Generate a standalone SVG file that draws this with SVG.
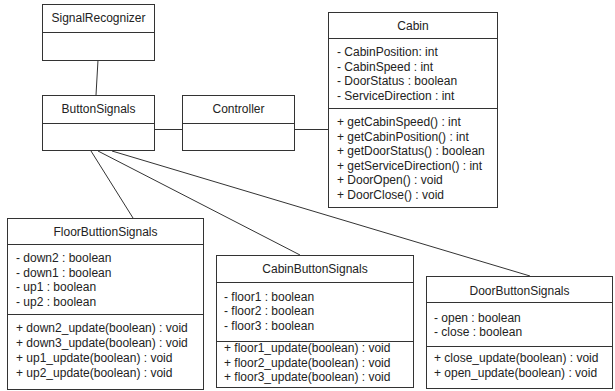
<svg xmlns="http://www.w3.org/2000/svg" width="615" height="391" viewBox="0 0 615 391">
<style>
.box{fill:#fff;stroke:#333;stroke-width:1}
.div{stroke:#333;stroke-width:1}
.conn{stroke:#333;stroke-width:1;fill:none}
text{font-family:"Liberation Sans",Arial,sans-serif;font-size:12px;fill:#222}
.t{text-anchor:middle}
</style>
<rect width="615" height="391" fill="#fff"/>
<g id="connectors">
<line class="conn" x1="98" y1="60" x2="96" y2="95"/>
<line class="conn" x1="154" y1="129.5" x2="182" y2="129.5"/>
<line class="conn" x1="294" y1="129.5" x2="328" y2="129.5"/>
<line class="conn" x1="91" y1="151" x2="133" y2="218"/>
<line class="conn" x1="98" y1="151" x2="300" y2="255"/>
<line class="conn" x1="112" y1="151" x2="530" y2="276"/>
</g>
<g id="SignalRecognizer">
<rect class="box" x="42.5" y="4.5" width="112" height="56"/>
<line class="div" x1="42.5" y1="32.5" x2="154.5" y2="32.5"/>
<text class="t" x="98.5" y="22">SignalRecognizer</text>
</g>
<g id="ButtonSignals">
<rect class="box" x="42.5" y="95.5" width="112" height="55"/>
<line class="div" x1="42.5" y1="123.5" x2="154.5" y2="123.5"/>
<text class="t" x="98.5" y="113">ButtonSignals</text>
</g>
<g id="Controller">
<rect class="box" x="182.5" y="95.5" width="112" height="55"/>
<line class="div" x1="182.5" y1="123.5" x2="294.5" y2="123.5"/>
<text class="t" x="238.5" y="113">Controller</text>
</g>
<g id="Cabin">
<rect class="box" x="328.5" y="12.5" width="169" height="195"/>
<line class="div" x1="328.5" y1="38.5" x2="497.5" y2="38.5"/>
<line class="div" x1="328.5" y1="108.5" x2="497.5" y2="108.5"/>
<text class="t" x="413" y="29.5">Cabin</text>
<text x="337" y="56">- CabinPosition: int</text>
<text x="337" y="70.5">- CabinSpeed : int</text>
<text x="337" y="85">- DoorStatus : boolean</text>
<text x="337" y="99.5">- ServiceDirection : int</text>
<text x="337" y="126">+ getCabinSpeed() : int</text>
<text x="337" y="140.6">+ getCabinPosition() : int</text>
<text x="337" y="155.2">+ getDoorStatus() : boolean</text>
<text x="337" y="169.8">+ getServiceDirection() : int</text>
<text x="337" y="184.4">+ DoorOpen() : void</text>
<text x="337" y="199">+ DoorClose() : void</text>
</g>
<g id="FloorButtionSignals">
<rect class="box" x="7.5" y="218.5" width="196" height="171"/>
<line class="div" x1="7.5" y1="244.5" x2="203.5" y2="244.5"/>
<line class="div" x1="7.5" y1="314.5" x2="203.5" y2="314.5"/>
<text class="t" x="105.5" y="235.5">FloorButtionSignals</text>
<text x="16" y="262">- down2 : boolean</text>
<text x="16" y="276.5">- down1 : boolean</text>
<text x="16" y="291">- up1 : boolean</text>
<text x="16" y="305.5">- up2 : boolean</text>
<text x="16" y="332">+ down2_update(boolean) : void</text>
<text x="16" y="347">+ down3_update(boolean) : void</text>
<text x="16" y="362">+ up1_update(boolean) : void</text>
<text x="16" y="377">+ up2_update(boolean) : void</text>
</g>
<g id="CabinButtonSignals">
<rect class="box" x="216.5" y="255.5" width="197" height="132"/>
<line class="div" x1="216.5" y1="282.5" x2="413.5" y2="282.5"/>
<line class="div" x1="216.5" y1="341.5" x2="413.5" y2="341.5"/>
<text class="t" x="315" y="273">CabinButtonSignals</text>
<text x="224" y="300.5">- floor1 : boolean</text>
<text x="224" y="315">- floor2 : boolean</text>
<text x="224" y="329.5">- floor3 : boolean</text>
<text x="224" y="352">+ floor1_update(boolean) : void</text>
<text x="224" y="366.5">+ floor2_update(boolean) : void</text>
<text x="224" y="381">+ floor3_update(boolean) : void</text>
</g>
<g id="DoorButtonSignals">
<rect class="box" x="426.5" y="276.5" width="186" height="112"/>
<line class="div" x1="426.5" y1="302.5" x2="612.5" y2="302.5"/>
<line class="div" x1="426.5" y1="346.5" x2="612.5" y2="346.5"/>
<text class="t" x="519.5" y="295">DoorButtonSignals</text>
<text x="434" y="322">- open : boolean</text>
<text x="434" y="336">- close : boolean</text>
<text x="434" y="362">+ close_update(boolean) : void</text>
<text x="434" y="377">+ open_update(boolean) : void</text>
</g>
</svg>
